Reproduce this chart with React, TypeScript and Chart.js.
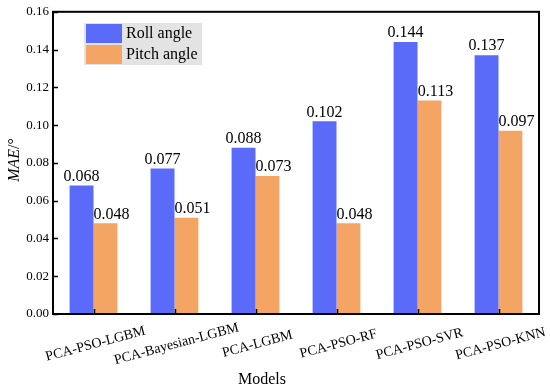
import React, { useEffect, useRef } from "react";
import { Chart, registerables } from "chart.js";

Chart.register(...registerables);

const categories = ["PCA-PSO-LGBM", "PCA-Bayesian-LGBM", "PCA-LGBM", "PCA-PSO-RF", "PCA-PSO-SVR", "PCA-PSO-KNN"];
const rollValues = [0.068, 0.077, 0.088, 0.102, 0.144, 0.137];
const pitchValues = [0.048, 0.051, 0.073, 0.048, 0.113, 0.097];
const seriesNames = ["Roll angle", "Pitch angle"];
const yTicks = [0, 0.02, 0.04, 0.06, 0.08, 0.1, 0.12, 0.14, 0.16];

const BLUE = "#5b6bf9";
const ORANGE = "#f4a463";
const FONT = "'Liberation Serif', 'Times New Roman', serif";

const overlayPlugin = {
  id: "overlay",
  afterDraw(chart: any) {
    const ctx = chart.ctx as CanvasRenderingContext2D;
    const area = chart.chartArea;
    const yScale = chart.scales.y;
    const xScale = chart.scales.x;
    ctx.save();
    // value labels
    ctx.fillStyle = "#000";
    ctx.font = `16px ${FONT}`;
    ctx.textAlign = "center";
    ctx.textBaseline = "bottom";
    chart.data.datasets.forEach((ds: any, di: number) => {
      const meta = chart.getDatasetMeta(di);
      const dx = di === 1 ? 6 : 0;
      meta.data.forEach((bar: any, i: number) => {
        ctx.fillText(Number(ds.data[i]).toFixed(3), bar.x + dx, bar.y - 1);
      });
    });
    // frame
    ctx.strokeStyle = "#000";
    ctx.lineWidth = 2;
    ctx.strokeRect(area.left, area.top, area.right - area.left, area.bottom - area.top);
    // inward ticks
    ctx.lineWidth = 1.5;
    yTicks.forEach((v) => {
      const y = Math.round(yScale.getPixelForValue(v)) + 0.5;
      ctx.beginPath();
      ctx.moveTo(area.left, y);
      ctx.lineTo(area.left + 5, y);
      ctx.stroke();
    });
    categories.forEach((_, i) => {
      const x = Math.round(xScale.getPixelForValue(i)) + 0.5;
      ctx.beginPath();
      ctx.moveTo(x, area.bottom);
      ctx.lineTo(x, area.bottom - 5);
      ctx.stroke();
    });
    // x category labels, rotated and centred
    ctx.font = `14px ${FONT}`;
    ctx.textAlign = "center";
    ctx.textBaseline = "middle";
    categories.forEach((c, i) => {
      const x = xScale.getPixelForValue(i) + 2;
      ctx.save();
      ctx.translate(x, area.bottom + 30);
      ctx.rotate((-15 * Math.PI) / 180);
      ctx.fillText(c, 0, 0);
      ctx.restore();
    });
    // x title
    ctx.font = `16px ${FONT}`;
    ctx.textBaseline = "alphabetic";
    ctx.fillText("Models", 262, 384);
    // y title
    ctx.save();
    ctx.translate(19, 160);
    ctx.rotate(-Math.PI / 2);
    ctx.font = `italic 16px ${FONT}`;
    const w1 = ctx.measureText("MAE").width;
    ctx.font = `16px ${FONT}`;
    const w2 = ctx.measureText("/°").width;
    const start = -(w1 + w2) / 2;
    ctx.textAlign = "left";
    ctx.textBaseline = "alphabetic";
    ctx.font = `italic 16px ${FONT}`;
    ctx.fillText("MAE", start, 0);
    ctx.font = `16px ${FONT}`;
    ctx.fillText("/°", start + w1, 0);
    ctx.restore();
    // legend
    ctx.fillStyle = "#e3e3e3";
    ctx.fillRect(84, 23, 118, 42);
    const colors = [BLUE, ORANGE];
    ctx.font = `16px ${FONT}`;
    ctx.textAlign = "left";
    ctx.textBaseline = "middle";
    seriesNames.forEach((n, i) => {
      const y = 24 + i * 21;
      ctx.fillStyle = colors[i];
      ctx.fillRect(86, y, 36, 19);
      ctx.fillStyle = "#000";
      ctx.fillText(n, 126, y + 10);
    });
    ctx.restore();
  },
};

export default function App() {
  const ref = useRef<HTMLCanvasElement>(null);
  useEffect(() => {
    if (!ref.current) return;
    const chart = new Chart(ref.current, {
      type: "bar",
      data: {
        labels: categories,
        datasets: [
          { label: seriesNames[0], data: rollValues, backgroundColor: BLUE, barPercentage: 1, categoryPercentage: 0.59 },
          { label: seriesNames[1], data: pitchValues, backgroundColor: ORANGE, barPercentage: 1, categoryPercentage: 0.59 },
        ],
      },
      options: {
        responsive: false,
        animation: false,
        layout: { padding: { top: 8, right: 11, left: 0, bottom: 0 } },
        plugins: { legend: { display: false }, tooltip: { enabled: false } },
        scales: {
          x: {
            grid: { display: false, drawTicks: false },
            border: { display: false },
            ticks: { display: false },
            afterFit: (s: any) => {
              s.height = 73;
            },
          },
          y: {
            min: 0,
            max: 0.16,
            grid: { display: false, drawTicks: false },
            border: { display: false },
            ticks: {
              stepSize: 0.02,
              padding: 4,
              color: "#000",
              font: { family: FONT, size: 13 },
              callback: (v: any) => Number(v).toFixed(2),
            },
            afterFit: (s: any) => {
              s.width = 53;
            },
          },
        },
      },
      plugins: [overlayPlugin],
    });
    return () => chart.destroy();
  }, []);
  return (
    <div style={{ position: "fixed", left: 0, top: 0, width: 550, height: 387, background: "#fff" }}>
      <canvas ref={ref} width={550} height={387} style={{ width: 550, height: 387 }} />
    </div>
  );
}
